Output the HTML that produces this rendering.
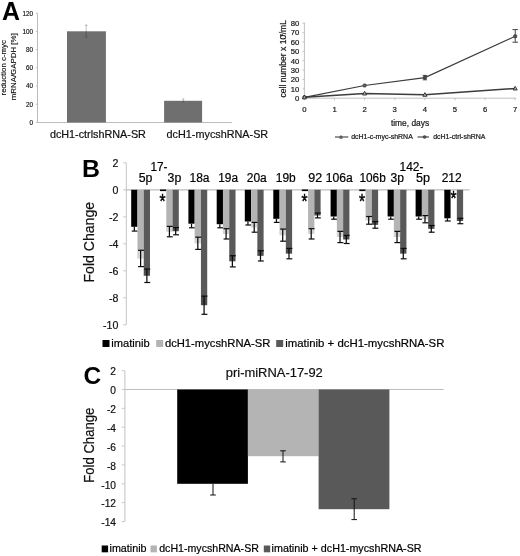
<!DOCTYPE html>
<html lang="en">
<head>
<meta charset="utf-8">
<title>Figure</title>
<style>html,body{margin:0;padding:0;background:#fff;}body{width:520px;height:556px;overflow:hidden;}</style>
</head>
<body>
<svg width="520" height="556" viewBox="0 0 520 556" font-family='"Liberation Sans", Arial, Helvetica, sans-serif' style="display:block;will-change:transform">
<rect width="520" height="556" fill="#ffffff"/>
<g id="panelA-bar">
<text x="1.9" y="19.7" font-size="25.4" text-anchor="start" font-weight="bold" fill="#000" textLength="18.0" lengthAdjust="spacingAndGlyphs">A</text>
<line x1="37.50" y1="13.20" x2="37.50" y2="122.50" stroke="#b4b4b4" stroke-width="0.9"/>
<line x1="37.50" y1="122.50" x2="232.00" y2="122.50" stroke="#b4b4b4" stroke-width="0.9"/>
<line x1="35.80" y1="13.20" x2="37.50" y2="13.20" stroke="#b4b4b4" stroke-width="0.8"/>
<text x="32.9" y="15.5" font-size="6.3" text-anchor="end" fill="#111" stroke="#111" stroke-width="0.15">120</text>
<line x1="35.80" y1="31.40" x2="37.50" y2="31.40" stroke="#b4b4b4" stroke-width="0.8"/>
<text x="32.9" y="33.699999999999996" font-size="6.3" text-anchor="end" fill="#111" stroke="#111" stroke-width="0.15">100</text>
<line x1="35.80" y1="49.60" x2="37.50" y2="49.60" stroke="#b4b4b4" stroke-width="0.8"/>
<text x="32.9" y="51.89999999999999" font-size="6.3" text-anchor="end" fill="#111" stroke="#111" stroke-width="0.15">80</text>
<line x1="35.80" y1="67.80" x2="37.50" y2="67.80" stroke="#b4b4b4" stroke-width="0.8"/>
<text x="32.9" y="70.1" font-size="6.3" text-anchor="end" fill="#111" stroke="#111" stroke-width="0.15">60</text>
<line x1="35.80" y1="86.00" x2="37.50" y2="86.00" stroke="#b4b4b4" stroke-width="0.8"/>
<text x="32.9" y="88.3" font-size="6.3" text-anchor="end" fill="#111" stroke="#111" stroke-width="0.15">40</text>
<line x1="35.80" y1="104.20" x2="37.50" y2="104.20" stroke="#b4b4b4" stroke-width="0.8"/>
<text x="32.9" y="106.5" font-size="6.3" text-anchor="end" fill="#111" stroke="#111" stroke-width="0.15">20</text>
<line x1="35.80" y1="122.40" x2="37.50" y2="122.40" stroke="#b4b4b4" stroke-width="0.8"/>
<text x="32.9" y="124.69999999999999" font-size="6.3" text-anchor="end" fill="#111" stroke="#111" stroke-width="0.15">0</text>
<rect x="67.00" y="31.30" width="38.90" height="91.20" fill="#6f6f6f"/>
<rect x="164.10" y="100.80" width="38.00" height="21.70" fill="#6f6f6f"/>
<line x1="86.20" y1="25.00" x2="86.20" y2="31.30" stroke="#a6a6a6" stroke-width="0.7"/>
<line x1="84.90" y1="25.20" x2="87.50" y2="25.20" stroke="#a0a0a0" stroke-width="0.8"/>
<line x1="86.20" y1="31.30" x2="86.20" y2="37.30" stroke="#4e4e4e" stroke-width="0.8"/>
<line x1="84.90" y1="37.20" x2="87.50" y2="37.20" stroke="#505050" stroke-width="0.8"/>
<line x1="183.30" y1="98.90" x2="183.30" y2="100.80" stroke="#a0a0a0" stroke-width="0.7"/>
<line x1="182.20" y1="98.90" x2="184.40" y2="98.90" stroke="#a6a6a6" stroke-width="0.7"/>
<line x1="183.30" y1="100.80" x2="183.30" y2="102.60" stroke="#4e4e4e" stroke-width="0.8"/>
<text x="6.5" y="67.8" font-size="8.0" text-anchor="middle" fill="#111" textLength="55.4" lengthAdjust="spacingAndGlyphs" transform="rotate(-90 6.5 67.8)" stroke="#111" stroke-width="0.15">reduction c-myc</text>
<text x="15.7" y="66.8" font-size="8.0" text-anchor="middle" fill="#111" textLength="67" lengthAdjust="spacingAndGlyphs" transform="rotate(-90 15.7 66.8)" stroke="#111" stroke-width="0.15">mRNA/GAPDH [%]</text>
<text x="49.9" y="138" font-size="10.7" text-anchor="start" fill="#111" stroke="#111" stroke-width="0.2" textLength="96" lengthAdjust="spacingAndGlyphs">dcH1-ctrlshRNA-SR</text>
<text x="166.6" y="138" font-size="10.8" text-anchor="start" fill="#111" stroke="#111" stroke-width="0.2" textLength="101.6" lengthAdjust="spacingAndGlyphs">dcH1-mycshRNA-SR</text>
</g>
<g id="panelA-line">
<line x1="304.40" y1="22.60" x2="304.40" y2="98.20" stroke="#b0b0b0" stroke-width="0.8"/>
<line x1="304.40" y1="98.20" x2="516.00" y2="98.20" stroke="#b0b0b0" stroke-width="0.8"/>
<line x1="302.40" y1="98.20" x2="304.40" y2="98.20" stroke="#b0b0b0" stroke-width="0.7"/>
<text x="299.4" y="101.0" font-size="7.7" text-anchor="end" fill="#1a1a1a" stroke="#1a1a1a" stroke-width="0.22">0</text>
<line x1="302.40" y1="88.83" x2="304.40" y2="88.83" stroke="#b0b0b0" stroke-width="0.7"/>
<text x="299.4" y="91.625" font-size="7.7" text-anchor="end" fill="#1a1a1a" stroke="#1a1a1a" stroke-width="0.22">10</text>
<line x1="302.40" y1="79.45" x2="304.40" y2="79.45" stroke="#b0b0b0" stroke-width="0.7"/>
<text x="299.4" y="82.25" font-size="7.7" text-anchor="end" fill="#1a1a1a" stroke="#1a1a1a" stroke-width="0.22">20</text>
<line x1="302.40" y1="70.08" x2="304.40" y2="70.08" stroke="#b0b0b0" stroke-width="0.7"/>
<text x="299.4" y="72.875" font-size="7.7" text-anchor="end" fill="#1a1a1a" stroke="#1a1a1a" stroke-width="0.22">30</text>
<line x1="302.40" y1="60.70" x2="304.40" y2="60.70" stroke="#b0b0b0" stroke-width="0.7"/>
<text x="299.4" y="63.5" font-size="7.7" text-anchor="end" fill="#1a1a1a" stroke="#1a1a1a" stroke-width="0.22">40</text>
<line x1="302.40" y1="51.33" x2="304.40" y2="51.33" stroke="#b0b0b0" stroke-width="0.7"/>
<text x="299.4" y="54.125" font-size="7.7" text-anchor="end" fill="#1a1a1a" stroke="#1a1a1a" stroke-width="0.22">50</text>
<line x1="302.40" y1="41.95" x2="304.40" y2="41.95" stroke="#b0b0b0" stroke-width="0.7"/>
<text x="299.4" y="44.75" font-size="7.7" text-anchor="end" fill="#1a1a1a" stroke="#1a1a1a" stroke-width="0.22">60</text>
<line x1="302.40" y1="32.58" x2="304.40" y2="32.58" stroke="#b0b0b0" stroke-width="0.7"/>
<text x="299.4" y="35.375" font-size="7.7" text-anchor="end" fill="#1a1a1a" stroke="#1a1a1a" stroke-width="0.22">70</text>
<line x1="302.40" y1="23.20" x2="304.40" y2="23.20" stroke="#b0b0b0" stroke-width="0.7"/>
<text x="299.4" y="26.000000000000004" font-size="7.7" text-anchor="end" fill="#1a1a1a" stroke="#1a1a1a" stroke-width="0.22">80</text>
<line x1="304.40" y1="98.20" x2="304.40" y2="100.20" stroke="#b0b0b0" stroke-width="0.7"/>
<text x="304.4" y="112.3" font-size="7.7" text-anchor="middle" fill="#1a1a1a" stroke="#1a1a1a" stroke-width="0.22">0</text>
<line x1="334.52" y1="98.20" x2="334.52" y2="100.20" stroke="#b0b0b0" stroke-width="0.7"/>
<text x="334.52" y="112.3" font-size="7.7" text-anchor="middle" fill="#1a1a1a" stroke="#1a1a1a" stroke-width="0.22">1</text>
<line x1="364.64" y1="98.20" x2="364.64" y2="100.20" stroke="#b0b0b0" stroke-width="0.7"/>
<text x="364.64" y="112.3" font-size="7.7" text-anchor="middle" fill="#1a1a1a" stroke="#1a1a1a" stroke-width="0.22">2</text>
<line x1="394.76" y1="98.20" x2="394.76" y2="100.20" stroke="#b0b0b0" stroke-width="0.7"/>
<text x="394.76" y="112.3" font-size="7.7" text-anchor="middle" fill="#1a1a1a" stroke="#1a1a1a" stroke-width="0.22">3</text>
<line x1="424.88" y1="98.20" x2="424.88" y2="100.20" stroke="#b0b0b0" stroke-width="0.7"/>
<text x="424.88" y="112.3" font-size="7.7" text-anchor="middle" fill="#1a1a1a" stroke="#1a1a1a" stroke-width="0.22">4</text>
<line x1="455.00" y1="98.20" x2="455.00" y2="100.20" stroke="#b0b0b0" stroke-width="0.7"/>
<text x="455.0" y="112.3" font-size="7.7" text-anchor="middle" fill="#1a1a1a" stroke="#1a1a1a" stroke-width="0.22">5</text>
<line x1="485.12" y1="98.20" x2="485.12" y2="100.20" stroke="#b0b0b0" stroke-width="0.7"/>
<text x="485.12" y="112.3" font-size="7.7" text-anchor="middle" fill="#1a1a1a" stroke="#1a1a1a" stroke-width="0.22">6</text>
<line x1="515.24" y1="98.20" x2="515.24" y2="100.20" stroke="#b0b0b0" stroke-width="0.7"/>
<text x="515.24" y="112.3" font-size="7.7" text-anchor="middle" fill="#1a1a1a" stroke="#1a1a1a" stroke-width="0.22">7</text>
<text x="286.2" y="58.8" font-size="8.7" text-anchor="middle" fill="#1a1a1a" textLength="77.4" lengthAdjust="spacingAndGlyphs" transform="rotate(-90 286.2 58.8)" stroke="#1a1a1a" stroke-width="0.22">cell number x 10<tspan font-size="4" dy="-3.4" dx="-1.2">6</tspan><tspan dy="3.4" dx="-0.6">/mL</tspan></text>
<text x="410" y="125.7" font-size="8.6" text-anchor="middle" fill="#1a1a1a" textLength="38.2" lengthAdjust="spacingAndGlyphs" stroke="#1a1a1a" stroke-width="0.22">time, days</text>
<polyline points="304.4,97.3 364.6,85.5 424.9,77.6 515.2,36.3" fill="none" stroke="#3c3c3c" stroke-width="1.25"/>
<polyline points="304.4,97.3 364.6,93.5 424.9,94.8 515.2,88.5" fill="none" stroke="#3c3c3c" stroke-width="1.5"/>
<rect x="302.9" y="95.8" width="3.0" height="3.0" rx="0.7" fill="#6a6a6a" stroke="#2a2a2a" stroke-width="0.7"/>
<rect x="363.1" y="84.0" width="3.0" height="3.0" rx="0.7" fill="#6a6a6a" stroke="#2a2a2a" stroke-width="0.7"/>
<rect x="423.4" y="76.1" width="3.0" height="3.0" rx="0.7" fill="#6a6a6a" stroke="#2a2a2a" stroke-width="0.7"/>
<rect x="513.7" y="34.8" width="3.0" height="3.0" rx="0.7" fill="#6a6a6a" stroke="#2a2a2a" stroke-width="0.7"/>
<path d="M302.4 98.8 L304.4 95.1 L306.4 98.8 Z" fill="#b8b8b8" stroke="#2a2a2a" stroke-width="0.9"/>
<path d="M362.6 95.0 L364.6 91.3 L366.6 95.0 Z" fill="#b8b8b8" stroke="#2a2a2a" stroke-width="0.9"/>
<path d="M422.9 96.3 L424.9 92.6 L426.9 96.3 Z" fill="#b8b8b8" stroke="#2a2a2a" stroke-width="0.9"/>
<path d="M513.2 90.0 L515.2 86.3 L517.2 90.0 Z" fill="#b8b8b8" stroke="#2a2a2a" stroke-width="0.9"/>
<line x1="515.24" y1="29.60" x2="515.24" y2="42.20" stroke="#333" stroke-width="0.9"/>
<line x1="512.44" y1="29.60" x2="518.04" y2="29.60" stroke="#333" stroke-width="0.9"/>
<line x1="512.44" y1="42.20" x2="518.04" y2="42.20" stroke="#333" stroke-width="0.9"/>
<line x1="424.88" y1="75.40" x2="424.88" y2="79.80" stroke="#333" stroke-width="0.9"/>
<line x1="422.68" y1="75.40" x2="427.08" y2="75.40" stroke="#333" stroke-width="0.9"/>
<line x1="422.68" y1="79.80" x2="427.08" y2="79.80" stroke="#333" stroke-width="0.9"/>
<line x1="335.00" y1="137.00" x2="348.30" y2="137.00" stroke="#3c3c3c" stroke-width="1.1"/>
<path d="M339.6 138.2 L341 135.5 L342.4 138.2 Z" fill="#aaa" stroke="#2a2a2a" stroke-width="0.7"/>
<text x="351.2" y="139.2" font-size="6.9" text-anchor="start" fill="#1a1a1a" textLength="61.6" lengthAdjust="spacingAndGlyphs" stroke="#1a1a1a" stroke-width="0.22">dcH1-c-myc-shRNA</text>
<line x1="417.50" y1="137.00" x2="429.00" y2="137.00" stroke="#3c3c3c" stroke-width="1.1"/>
<rect x="423.3" y="135.7" width="2.6" height="2.6" rx="0.8" fill="#555" stroke="#2a2a2a" stroke-width="0.6"/>
<text x="433.2" y="139.2" font-size="6.9" text-anchor="start" fill="#1a1a1a" textLength="52.3" lengthAdjust="spacingAndGlyphs" stroke="#1a1a1a" stroke-width="0.22">dcH1-ctrl-shRNA</text>
</g>
<g id="panelB">
<text x="82.0" y="176.7" font-size="23.5" text-anchor="start" font-weight="bold" fill="#000" textLength="18.0" lengthAdjust="spacingAndGlyphs">B</text>
<line x1="126.30" y1="162.80" x2="126.30" y2="324.80" stroke="#bcbcbc" stroke-width="0.9"/>
<line x1="126.30" y1="189.80" x2="469.60" y2="189.80" stroke="#bdbdbd" stroke-width="1.2"/>
<line x1="123.10" y1="162.80" x2="126.30" y2="162.80" stroke="#bcbcbc" stroke-width="0.8"/>
<text x="118.3" y="167.20000000000002" font-size="10.6" text-anchor="end" fill="#111" stroke="#111" stroke-width="0.2">2</text>
<line x1="123.10" y1="189.80" x2="126.30" y2="189.80" stroke="#bcbcbc" stroke-width="0.8"/>
<text x="118.3" y="194.20000000000002" font-size="10.6" text-anchor="end" fill="#111" stroke="#111" stroke-width="0.2">0</text>
<line x1="123.10" y1="216.80" x2="126.30" y2="216.80" stroke="#bcbcbc" stroke-width="0.8"/>
<text x="118.3" y="221.20000000000002" font-size="10.6" text-anchor="end" fill="#111" stroke="#111" stroke-width="0.2">-2</text>
<line x1="123.10" y1="243.80" x2="126.30" y2="243.80" stroke="#bcbcbc" stroke-width="0.8"/>
<text x="118.3" y="248.20000000000002" font-size="10.6" text-anchor="end" fill="#111" stroke="#111" stroke-width="0.2">-4</text>
<line x1="123.10" y1="270.80" x2="126.30" y2="270.80" stroke="#bcbcbc" stroke-width="0.8"/>
<text x="118.3" y="275.2" font-size="10.6" text-anchor="end" fill="#111" stroke="#111" stroke-width="0.2">-6</text>
<line x1="123.10" y1="297.80" x2="126.30" y2="297.80" stroke="#bcbcbc" stroke-width="0.8"/>
<text x="118.3" y="302.2" font-size="10.6" text-anchor="end" fill="#111" stroke="#111" stroke-width="0.2">-8</text>
<line x1="123.10" y1="324.80" x2="126.30" y2="324.80" stroke="#bcbcbc" stroke-width="0.8"/>
<text x="118.3" y="329.2" font-size="10.6" text-anchor="end" fill="#111" stroke="#111" stroke-width="0.2">-10</text>
<text x="94.5" y="242.2" font-size="14.6" text-anchor="middle" fill="#111" stroke="#111" stroke-width="0.2" textLength="80.6" lengthAdjust="spacingAndGlyphs" transform="rotate(-90 94.5 242.2)">Fold Change</text>
<rect x="131.20" y="189.80" width="6.27" height="37.00" fill="#000000"/>
<line x1="134.33" y1="226.80" x2="134.33" y2="231.10" stroke="#0c0c0c" stroke-width="1.25"/>
<line x1="131.78" y1="231.10" x2="137.68" y2="231.10" stroke="#0c0c0c" stroke-width="1.2"/>
<rect x="137.47" y="189.80" width="6.27" height="68.65" fill="#b4b4b4"/>
<rect x="143.74" y="189.80" width="6.27" height="85.95" fill="#595959"/>
<rect x="137.47" y="250.30" width="6.27" height="8.15" fill="rgba(255,255,255,0.42)"/>
<line x1="140.60" y1="250.30" x2="140.60" y2="266.60" stroke="#0c0c0c" stroke-width="1.25"/>
<line x1="138.06" y1="250.30" x2="143.95" y2="250.30" stroke="#0c0c0c" stroke-width="1.2"/>
<line x1="138.06" y1="266.60" x2="143.95" y2="266.60" stroke="#0c0c0c" stroke-width="1.2"/>
<rect x="143.74" y="269.00" width="6.27" height="6.75" fill="rgba(0,0,0,0.12)"/>
<line x1="146.88" y1="269.00" x2="146.88" y2="282.50" stroke="#0c0c0c" stroke-width="1.25"/>
<line x1="144.33" y1="269.00" x2="150.22" y2="269.00" stroke="#0c0c0c" stroke-width="1.2"/>
<line x1="144.33" y1="282.50" x2="150.22" y2="282.50" stroke="#0c0c0c" stroke-width="1.2"/>
<rect x="160.00" y="189.50" width="6.27" height="1.60" fill="#000000"/>
<rect x="166.27" y="189.80" width="6.27" height="41.80" fill="#b4b4b4"/>
<rect x="172.54" y="189.80" width="6.27" height="41.40" fill="#595959"/>
<rect x="166.27" y="226.40" width="6.27" height="5.20" fill="rgba(255,255,255,0.42)"/>
<line x1="169.41" y1="226.40" x2="169.41" y2="236.80" stroke="#0c0c0c" stroke-width="1.25"/>
<line x1="166.86" y1="226.40" x2="172.75" y2="226.40" stroke="#0c0c0c" stroke-width="1.2"/>
<line x1="166.86" y1="236.80" x2="172.75" y2="236.80" stroke="#0c0c0c" stroke-width="1.2"/>
<rect x="172.54" y="227.60" width="6.27" height="3.60" fill="rgba(0,0,0,0.12)"/>
<line x1="175.68" y1="227.60" x2="175.68" y2="234.80" stroke="#0c0c0c" stroke-width="1.25"/>
<line x1="173.13" y1="227.60" x2="179.03" y2="227.60" stroke="#0c0c0c" stroke-width="1.2"/>
<line x1="173.13" y1="234.80" x2="179.03" y2="234.80" stroke="#0c0c0c" stroke-width="1.2"/>
<rect x="188.40" y="189.80" width="6.27" height="33.90" fill="#000000"/>
<line x1="191.53" y1="223.70" x2="191.53" y2="227.80" stroke="#0c0c0c" stroke-width="1.25"/>
<line x1="188.99" y1="227.80" x2="194.88" y2="227.80" stroke="#0c0c0c" stroke-width="1.2"/>
<rect x="194.67" y="189.80" width="6.27" height="53.50" fill="#b4b4b4"/>
<rect x="200.94" y="189.80" width="6.27" height="115.40" fill="#595959"/>
<rect x="194.67" y="237.20" width="6.27" height="6.10" fill="rgba(255,255,255,0.42)"/>
<line x1="197.81" y1="237.20" x2="197.81" y2="249.40" stroke="#0c0c0c" stroke-width="1.25"/>
<line x1="195.26" y1="237.20" x2="201.16" y2="237.20" stroke="#0c0c0c" stroke-width="1.2"/>
<line x1="195.26" y1="249.40" x2="201.16" y2="249.40" stroke="#0c0c0c" stroke-width="1.2"/>
<rect x="200.94" y="296.10" width="6.27" height="9.10" fill="rgba(0,0,0,0.12)"/>
<line x1="204.08" y1="296.10" x2="204.08" y2="314.30" stroke="#0c0c0c" stroke-width="1.25"/>
<line x1="201.53" y1="296.10" x2="207.43" y2="296.10" stroke="#0c0c0c" stroke-width="1.2"/>
<line x1="201.53" y1="314.30" x2="207.43" y2="314.30" stroke="#0c0c0c" stroke-width="1.2"/>
<rect x="216.70" y="189.80" width="6.27" height="34.40" fill="#000000"/>
<line x1="219.83" y1="224.20" x2="219.83" y2="227.80" stroke="#0c0c0c" stroke-width="1.25"/>
<line x1="217.28" y1="227.80" x2="223.18" y2="227.80" stroke="#0c0c0c" stroke-width="1.2"/>
<rect x="222.97" y="189.80" width="6.27" height="44.05" fill="#b4b4b4"/>
<rect x="229.24" y="189.80" width="6.27" height="71.50" fill="#595959"/>
<rect x="222.97" y="228.70" width="6.27" height="5.15" fill="rgba(255,255,255,0.42)"/>
<line x1="226.10" y1="228.70" x2="226.10" y2="239.00" stroke="#0c0c0c" stroke-width="1.25"/>
<line x1="223.56" y1="228.70" x2="229.45" y2="228.70" stroke="#0c0c0c" stroke-width="1.2"/>
<line x1="223.56" y1="239.00" x2="229.45" y2="239.00" stroke="#0c0c0c" stroke-width="1.2"/>
<rect x="229.24" y="255.70" width="6.27" height="5.60" fill="rgba(0,0,0,0.12)"/>
<line x1="232.38" y1="255.70" x2="232.38" y2="266.90" stroke="#0c0c0c" stroke-width="1.25"/>
<line x1="229.83" y1="255.70" x2="235.72" y2="255.70" stroke="#0c0c0c" stroke-width="1.2"/>
<line x1="229.83" y1="266.90" x2="235.72" y2="266.90" stroke="#0c0c0c" stroke-width="1.2"/>
<rect x="244.80" y="189.80" width="6.27" height="31.70" fill="#000000"/>
<line x1="247.94" y1="221.50" x2="247.94" y2="225.00" stroke="#0c0c0c" stroke-width="1.25"/>
<line x1="245.39" y1="225.00" x2="251.28" y2="225.00" stroke="#0c0c0c" stroke-width="1.2"/>
<rect x="251.07" y="189.80" width="6.27" height="37.50" fill="#b4b4b4"/>
<rect x="257.34" y="189.80" width="6.27" height="66.05" fill="#595959"/>
<rect x="251.07" y="222.40" width="6.27" height="4.90" fill="rgba(255,255,255,0.42)"/>
<line x1="254.21" y1="222.40" x2="254.21" y2="232.20" stroke="#0c0c0c" stroke-width="1.25"/>
<line x1="251.66" y1="222.40" x2="257.56" y2="222.40" stroke="#0c0c0c" stroke-width="1.2"/>
<line x1="251.66" y1="232.20" x2="257.56" y2="232.20" stroke="#0c0c0c" stroke-width="1.2"/>
<rect x="257.34" y="250.70" width="6.27" height="5.15" fill="rgba(0,0,0,0.12)"/>
<line x1="260.48" y1="250.70" x2="260.48" y2="261.00" stroke="#0c0c0c" stroke-width="1.25"/>
<line x1="257.93" y1="250.70" x2="263.82" y2="250.70" stroke="#0c0c0c" stroke-width="1.2"/>
<line x1="257.93" y1="261.00" x2="263.82" y2="261.00" stroke="#0c0c0c" stroke-width="1.2"/>
<rect x="273.30" y="189.80" width="6.27" height="29.00" fill="#000000"/>
<line x1="276.44" y1="218.80" x2="276.44" y2="222.40" stroke="#0c0c0c" stroke-width="1.25"/>
<line x1="273.88" y1="222.40" x2="279.78" y2="222.40" stroke="#0c0c0c" stroke-width="1.2"/>
<rect x="279.57" y="189.80" width="6.27" height="45.35" fill="#b4b4b4"/>
<rect x="285.84" y="189.80" width="6.27" height="63.80" fill="#595959"/>
<rect x="279.57" y="229.10" width="6.27" height="6.05" fill="rgba(255,255,255,0.42)"/>
<line x1="282.70" y1="229.10" x2="282.70" y2="241.20" stroke="#0c0c0c" stroke-width="1.25"/>
<line x1="280.15" y1="229.10" x2="286.05" y2="229.10" stroke="#0c0c0c" stroke-width="1.2"/>
<line x1="280.15" y1="241.20" x2="286.05" y2="241.20" stroke="#0c0c0c" stroke-width="1.2"/>
<rect x="285.84" y="248.40" width="6.27" height="5.20" fill="rgba(0,0,0,0.12)"/>
<line x1="288.98" y1="248.40" x2="288.98" y2="258.80" stroke="#0c0c0c" stroke-width="1.25"/>
<line x1="286.43" y1="248.40" x2="292.32" y2="248.40" stroke="#0c0c0c" stroke-width="1.2"/>
<line x1="286.43" y1="258.80" x2="292.32" y2="258.80" stroke="#0c0c0c" stroke-width="1.2"/>
<rect x="301.80" y="189.50" width="6.27" height="1.60" fill="#000000"/>
<rect x="308.07" y="189.80" width="6.27" height="44.05" fill="#b4b4b4"/>
<rect x="314.34" y="189.80" width="6.27" height="25.65" fill="#595959"/>
<rect x="308.07" y="228.70" width="6.27" height="5.15" fill="rgba(255,255,255,0.42)"/>
<line x1="311.20" y1="228.70" x2="311.20" y2="239.00" stroke="#0c0c0c" stroke-width="1.25"/>
<line x1="308.65" y1="228.70" x2="314.55" y2="228.70" stroke="#0c0c0c" stroke-width="1.2"/>
<line x1="308.65" y1="239.00" x2="314.55" y2="239.00" stroke="#0c0c0c" stroke-width="1.2"/>
<rect x="314.34" y="213.00" width="6.27" height="2.45" fill="rgba(0,0,0,0.12)"/>
<line x1="317.48" y1="213.00" x2="317.48" y2="217.90" stroke="#0c0c0c" stroke-width="1.25"/>
<line x1="314.93" y1="213.00" x2="320.82" y2="213.00" stroke="#0c0c0c" stroke-width="1.2"/>
<line x1="314.93" y1="217.90" x2="320.82" y2="217.90" stroke="#0c0c0c" stroke-width="1.2"/>
<rect x="330.60" y="189.80" width="6.27" height="26.70" fill="#000000"/>
<line x1="333.74" y1="216.50" x2="333.74" y2="219.20" stroke="#0c0c0c" stroke-width="1.25"/>
<line x1="331.19" y1="219.20" x2="337.08" y2="219.20" stroke="#0c0c0c" stroke-width="1.2"/>
<rect x="336.87" y="189.80" width="6.27" height="47.20" fill="#b4b4b4"/>
<rect x="343.14" y="189.80" width="6.27" height="49.65" fill="#595959"/>
<rect x="336.87" y="231.40" width="6.27" height="5.60" fill="rgba(255,255,255,0.42)"/>
<line x1="340.00" y1="231.40" x2="340.00" y2="242.60" stroke="#0c0c0c" stroke-width="1.25"/>
<line x1="337.45" y1="231.40" x2="343.35" y2="231.40" stroke="#0c0c0c" stroke-width="1.2"/>
<line x1="337.45" y1="242.60" x2="343.35" y2="242.60" stroke="#0c0c0c" stroke-width="1.2"/>
<rect x="343.14" y="235.40" width="6.27" height="4.05" fill="rgba(0,0,0,0.12)"/>
<line x1="346.28" y1="235.40" x2="346.28" y2="243.50" stroke="#0c0c0c" stroke-width="1.25"/>
<line x1="343.73" y1="235.40" x2="349.62" y2="235.40" stroke="#0c0c0c" stroke-width="1.2"/>
<line x1="343.73" y1="243.50" x2="349.62" y2="243.50" stroke="#0c0c0c" stroke-width="1.2"/>
<rect x="359.30" y="189.50" width="6.27" height="1.60" fill="#000000"/>
<rect x="365.57" y="189.80" width="6.27" height="30.55" fill="#b4b4b4"/>
<rect x="371.84" y="189.80" width="6.27" height="35.05" fill="#595959"/>
<rect x="365.57" y="216.50" width="6.27" height="3.85" fill="rgba(255,255,255,0.42)"/>
<line x1="368.70" y1="216.50" x2="368.70" y2="224.20" stroke="#0c0c0c" stroke-width="1.25"/>
<line x1="366.15" y1="216.50" x2="372.05" y2="216.50" stroke="#0c0c0c" stroke-width="1.2"/>
<line x1="366.15" y1="224.20" x2="372.05" y2="224.20" stroke="#0c0c0c" stroke-width="1.2"/>
<rect x="371.84" y="221.50" width="6.27" height="3.35" fill="rgba(0,0,0,0.12)"/>
<line x1="374.98" y1="221.50" x2="374.98" y2="228.20" stroke="#0c0c0c" stroke-width="1.25"/>
<line x1="372.43" y1="221.50" x2="378.32" y2="221.50" stroke="#0c0c0c" stroke-width="1.2"/>
<line x1="372.43" y1="228.20" x2="378.32" y2="228.20" stroke="#0c0c0c" stroke-width="1.2"/>
<rect x="387.60" y="189.80" width="6.27" height="26.70" fill="#000000"/>
<line x1="390.74" y1="216.50" x2="390.74" y2="219.20" stroke="#0c0c0c" stroke-width="1.25"/>
<line x1="388.19" y1="219.20" x2="394.08" y2="219.20" stroke="#0c0c0c" stroke-width="1.2"/>
<rect x="393.87" y="189.80" width="6.27" height="47.20" fill="#b4b4b4"/>
<rect x="400.14" y="189.80" width="6.27" height="63.80" fill="#595959"/>
<rect x="393.87" y="231.40" width="6.27" height="5.60" fill="rgba(255,255,255,0.42)"/>
<line x1="397.00" y1="231.40" x2="397.00" y2="242.60" stroke="#0c0c0c" stroke-width="1.25"/>
<line x1="394.45" y1="231.40" x2="400.35" y2="231.40" stroke="#0c0c0c" stroke-width="1.2"/>
<line x1="394.45" y1="242.60" x2="400.35" y2="242.60" stroke="#0c0c0c" stroke-width="1.2"/>
<rect x="400.14" y="248.40" width="6.27" height="5.20" fill="rgba(0,0,0,0.12)"/>
<line x1="403.28" y1="248.40" x2="403.28" y2="258.80" stroke="#0c0c0c" stroke-width="1.25"/>
<line x1="400.73" y1="248.40" x2="406.62" y2="248.40" stroke="#0c0c0c" stroke-width="1.2"/>
<line x1="400.73" y1="258.80" x2="406.62" y2="258.80" stroke="#0c0c0c" stroke-width="1.2"/>
<rect x="415.60" y="189.80" width="6.27" height="26.70" fill="#000000"/>
<line x1="418.74" y1="216.50" x2="418.74" y2="219.20" stroke="#0c0c0c" stroke-width="1.25"/>
<line x1="416.19" y1="219.20" x2="422.08" y2="219.20" stroke="#0c0c0c" stroke-width="1.2"/>
<rect x="421.87" y="189.80" width="6.27" height="29.40" fill="#b4b4b4"/>
<rect x="428.14" y="189.80" width="6.27" height="39.05" fill="#595959"/>
<rect x="421.87" y="215.60" width="6.27" height="3.60" fill="rgba(255,255,255,0.42)"/>
<line x1="425.00" y1="215.60" x2="425.00" y2="222.80" stroke="#0c0c0c" stroke-width="1.25"/>
<line x1="422.45" y1="215.60" x2="428.35" y2="215.60" stroke="#0c0c0c" stroke-width="1.2"/>
<line x1="422.45" y1="222.80" x2="428.35" y2="222.80" stroke="#0c0c0c" stroke-width="1.2"/>
<rect x="428.14" y="225.50" width="6.27" height="3.35" fill="rgba(0,0,0,0.12)"/>
<line x1="431.28" y1="225.50" x2="431.28" y2="232.20" stroke="#0c0c0c" stroke-width="1.25"/>
<line x1="428.73" y1="225.50" x2="434.62" y2="225.50" stroke="#0c0c0c" stroke-width="1.2"/>
<line x1="428.73" y1="232.20" x2="434.62" y2="232.20" stroke="#0c0c0c" stroke-width="1.2"/>
<rect x="444.30" y="189.80" width="6.27" height="28.50" fill="#000000"/>
<line x1="447.44" y1="218.30" x2="447.44" y2="221.00" stroke="#0c0c0c" stroke-width="1.25"/>
<line x1="444.88" y1="221.00" x2="450.78" y2="221.00" stroke="#0c0c0c" stroke-width="1.2"/>
<rect x="456.84" y="189.80" width="6.27" height="31.20" fill="#595959"/>
<rect x="456.84" y="218.30" width="6.27" height="2.70" fill="rgba(0,0,0,0.12)"/>
<line x1="459.98" y1="218.30" x2="459.98" y2="223.70" stroke="#0c0c0c" stroke-width="1.25"/>
<line x1="457.43" y1="218.30" x2="463.32" y2="218.30" stroke="#0c0c0c" stroke-width="1.2"/>
<line x1="457.43" y1="223.70" x2="463.32" y2="223.70" stroke="#0c0c0c" stroke-width="1.2"/>
<text transform="translate(162.4 197.2) scale(1.0 1.25)" x="0" y="8.3" font-size="15.5" text-anchor="middle" fill="#000" stroke="#000" stroke-width="0.35">*</text>
<text transform="translate(304.4 197.6) scale(1.0 1.25)" x="0" y="8.3" font-size="15.5" text-anchor="middle" fill="#000" stroke="#000" stroke-width="0.35">*</text>
<text transform="translate(362.0 197.6) scale(1.0 1.25)" x="0" y="8.3" font-size="15.5" text-anchor="middle" fill="#000" stroke="#000" stroke-width="0.35">*</text>
<text transform="translate(453.4 194.9) scale(1.0 1.25)" x="0" y="8.3" font-size="15.5" text-anchor="middle" fill="#000" stroke="#000" stroke-width="0.35">*</text>
<text x="145.6" y="182" font-size="12" text-anchor="middle" fill="#000" stroke="#000" stroke-width="0.2" textLength="13.7" lengthAdjust="spacingAndGlyphs">5p</text>
<text x="174.4" y="182" font-size="12" text-anchor="middle" fill="#000" stroke="#000" stroke-width="0.2" textLength="13.7" lengthAdjust="spacingAndGlyphs">3p</text>
<text x="199.5" y="182" font-size="12" text-anchor="middle" fill="#000" stroke="#000" stroke-width="0.2" textLength="20" lengthAdjust="spacingAndGlyphs">18a</text>
<text x="228.1" y="182" font-size="12" text-anchor="middle" fill="#000" stroke="#000" stroke-width="0.2" textLength="19.8" lengthAdjust="spacingAndGlyphs">19a</text>
<text x="256.8" y="182" font-size="12" text-anchor="middle" fill="#000" stroke="#000" stroke-width="0.2" textLength="20" lengthAdjust="spacingAndGlyphs">20a</text>
<text x="285.8" y="182" font-size="12" text-anchor="middle" fill="#000" stroke="#000" stroke-width="0.2" textLength="20" lengthAdjust="spacingAndGlyphs">19b</text>
<text x="315.2" y="182" font-size="12" text-anchor="middle" fill="#000" stroke="#000" stroke-width="0.2" textLength="13.9" lengthAdjust="spacingAndGlyphs">92</text>
<text x="339.3" y="182" font-size="12" text-anchor="middle" fill="#000" stroke="#000" stroke-width="0.2" textLength="27" lengthAdjust="spacingAndGlyphs">106a</text>
<text x="372.6" y="182" font-size="12" text-anchor="middle" fill="#000" stroke="#000" stroke-width="0.2" textLength="26.3" lengthAdjust="spacingAndGlyphs">106b</text>
<text x="397.2" y="182" font-size="12" text-anchor="middle" fill="#000" stroke="#000" stroke-width="0.2" textLength="13.5" lengthAdjust="spacingAndGlyphs">3p</text>
<text x="423" y="182" font-size="12" text-anchor="middle" fill="#000" stroke="#000" stroke-width="0.2" textLength="14" lengthAdjust="spacingAndGlyphs">5p</text>
<text x="451.7" y="182" font-size="12" text-anchor="middle" fill="#000" stroke="#000" stroke-width="0.2" textLength="20.1" lengthAdjust="spacingAndGlyphs">212</text>
<text x="159" y="170.5" font-size="12" text-anchor="middle" fill="#000" stroke="#000" stroke-width="0.2" textLength="17" lengthAdjust="spacingAndGlyphs">17-</text>
<text x="411.5" y="170.5" font-size="12" text-anchor="middle" fill="#000" stroke="#000" stroke-width="0.2" textLength="23.8" lengthAdjust="spacingAndGlyphs">142-</text>
<rect x="102.50" y="340.00" width="7.00" height="7.00" fill="#000000"/>
<text x="111.2" y="347.0" font-size="11.4" text-anchor="start" fill="#000" stroke="#000" stroke-width="0.2" textLength="38.4" lengthAdjust="spacingAndGlyphs">imatinib</text>
<rect x="156.20" y="340.00" width="7.00" height="7.00" fill="#b4b4b4"/>
<text x="164.9" y="347.0" font-size="11.4" text-anchor="start" fill="#000" stroke="#000" stroke-width="0.2" textLength="105.5" lengthAdjust="spacingAndGlyphs">dcH1-mycshRNA-SR</text>
<rect x="276.20" y="340.00" width="7.00" height="7.00" fill="#595959"/>
<text x="285.2" y="347.0" font-size="11.4" text-anchor="start" fill="#000" stroke="#000" stroke-width="0.2" textLength="159.2" lengthAdjust="spacingAndGlyphs">imatinib + dcH1-mycshRNA-SR</text>
</g>
<g id="panelC">
<text x="83.4" y="384.2" font-size="24.5" text-anchor="start" font-weight="bold" fill="#000">C</text>
<line x1="124.90" y1="370.80" x2="124.90" y2="521.60" stroke="#bcbcbc" stroke-width="0.9"/>
<line x1="124.90" y1="389.50" x2="443.60" y2="389.50" stroke="#bdbdbd" stroke-width="1.2"/>
<line x1="121.70" y1="370.64" x2="124.90" y2="370.64" stroke="#bcbcbc" stroke-width="0.8"/>
<text x="116.0" y="375.44" font-size="10.2" text-anchor="end" fill="#111" stroke="#111" stroke-width="0.2">2</text>
<line x1="121.70" y1="389.50" x2="124.90" y2="389.50" stroke="#bcbcbc" stroke-width="0.8"/>
<text x="116.0" y="394.3" font-size="10.2" text-anchor="end" fill="#111" stroke="#111" stroke-width="0.2">0</text>
<line x1="121.70" y1="408.36" x2="124.90" y2="408.36" stroke="#bcbcbc" stroke-width="0.8"/>
<text x="116.0" y="413.16" font-size="10.2" text-anchor="end" fill="#111" stroke="#111" stroke-width="0.2">-2</text>
<line x1="121.70" y1="427.22" x2="124.90" y2="427.22" stroke="#bcbcbc" stroke-width="0.8"/>
<text x="116.0" y="432.02000000000004" font-size="10.2" text-anchor="end" fill="#111" stroke="#111" stroke-width="0.2">-4</text>
<line x1="121.70" y1="446.08" x2="124.90" y2="446.08" stroke="#bcbcbc" stroke-width="0.8"/>
<text x="116.0" y="450.88" font-size="10.2" text-anchor="end" fill="#111" stroke="#111" stroke-width="0.2">-6</text>
<line x1="121.70" y1="464.94" x2="124.90" y2="464.94" stroke="#bcbcbc" stroke-width="0.8"/>
<text x="116.0" y="469.74" font-size="10.2" text-anchor="end" fill="#111" stroke="#111" stroke-width="0.2">-8</text>
<line x1="121.70" y1="483.80" x2="124.90" y2="483.80" stroke="#bcbcbc" stroke-width="0.8"/>
<text x="116.0" y="488.6" font-size="10.2" text-anchor="end" fill="#111" stroke="#111" stroke-width="0.2">-10</text>
<line x1="121.70" y1="502.66" x2="124.90" y2="502.66" stroke="#bcbcbc" stroke-width="0.8"/>
<text x="116.0" y="507.46" font-size="10.2" text-anchor="end" fill="#111" stroke="#111" stroke-width="0.2">-12</text>
<line x1="121.70" y1="521.52" x2="124.90" y2="521.52" stroke="#bcbcbc" stroke-width="0.8"/>
<text x="116.0" y="526.3199999999999" font-size="10.2" text-anchor="end" fill="#111" stroke="#111" stroke-width="0.2">-14</text>
<text x="93.8" y="445.2" font-size="14.2" text-anchor="middle" fill="#111" stroke="#111" stroke-width="0.2" textLength="75.2" lengthAdjust="spacingAndGlyphs" transform="rotate(-90 93.8 445.2)">Fold Change</text>
<text x="225.8" y="377.4" font-size="13" text-anchor="start" fill="#111" stroke="#111" stroke-width="0.2" textLength="97" lengthAdjust="spacingAndGlyphs">pri-miRNA-17-92</text>
<rect x="177.20" y="389.50" width="70.70" height="94.30" fill="#000000"/>
<rect x="247.90" y="389.50" width="70.80" height="66.70" fill="#b4b4b4"/>
<rect x="318.60" y="389.50" width="70.80" height="119.70" fill="#595959"/>
<line x1="213.00" y1="483.80" x2="213.00" y2="495.00" stroke="#111" stroke-width="1.0"/>
<line x1="210.20" y1="495.00" x2="215.80" y2="495.00" stroke="#111" stroke-width="1.0"/>
<line x1="283.00" y1="450.80" x2="283.00" y2="461.90" stroke="#111" stroke-width="1.0"/>
<line x1="280.20" y1="450.80" x2="285.80" y2="450.80" stroke="#111" stroke-width="1.0"/>
<line x1="280.20" y1="461.90" x2="285.80" y2="461.90" stroke="#111" stroke-width="1.0"/>
<line x1="354.20" y1="498.80" x2="354.20" y2="519.60" stroke="#111" stroke-width="1.0"/>
<line x1="351.40" y1="498.80" x2="357.00" y2="498.80" stroke="#111" stroke-width="1.0"/>
<line x1="351.40" y1="519.60" x2="357.00" y2="519.60" stroke="#111" stroke-width="1.0"/>
<rect x="101.70" y="545.50" width="6.40" height="6.80" fill="#000000"/>
<text x="109.5" y="552.2" font-size="10.7" text-anchor="start" fill="#000" stroke="#000" stroke-width="0.2" textLength="37" lengthAdjust="spacingAndGlyphs">imatinib</text>
<rect x="150.50" y="545.50" width="6.40" height="6.80" fill="#b4b4b4"/>
<text x="159.2" y="552.2" font-size="10.7" text-anchor="start" fill="#000" stroke="#000" stroke-width="0.2" textLength="99.7" lengthAdjust="spacingAndGlyphs">dcH1-mycshRNA-SR</text>
<rect x="263.80" y="545.50" width="6.40" height="6.80" fill="#595959"/>
<text x="271.6" y="552.2" font-size="10.7" text-anchor="start" fill="#000" stroke="#000" stroke-width="0.2" textLength="150" lengthAdjust="spacingAndGlyphs">imatinib + dcH1-mycshRNA-SR</text>
</g>
</svg>
</body>
</html>
